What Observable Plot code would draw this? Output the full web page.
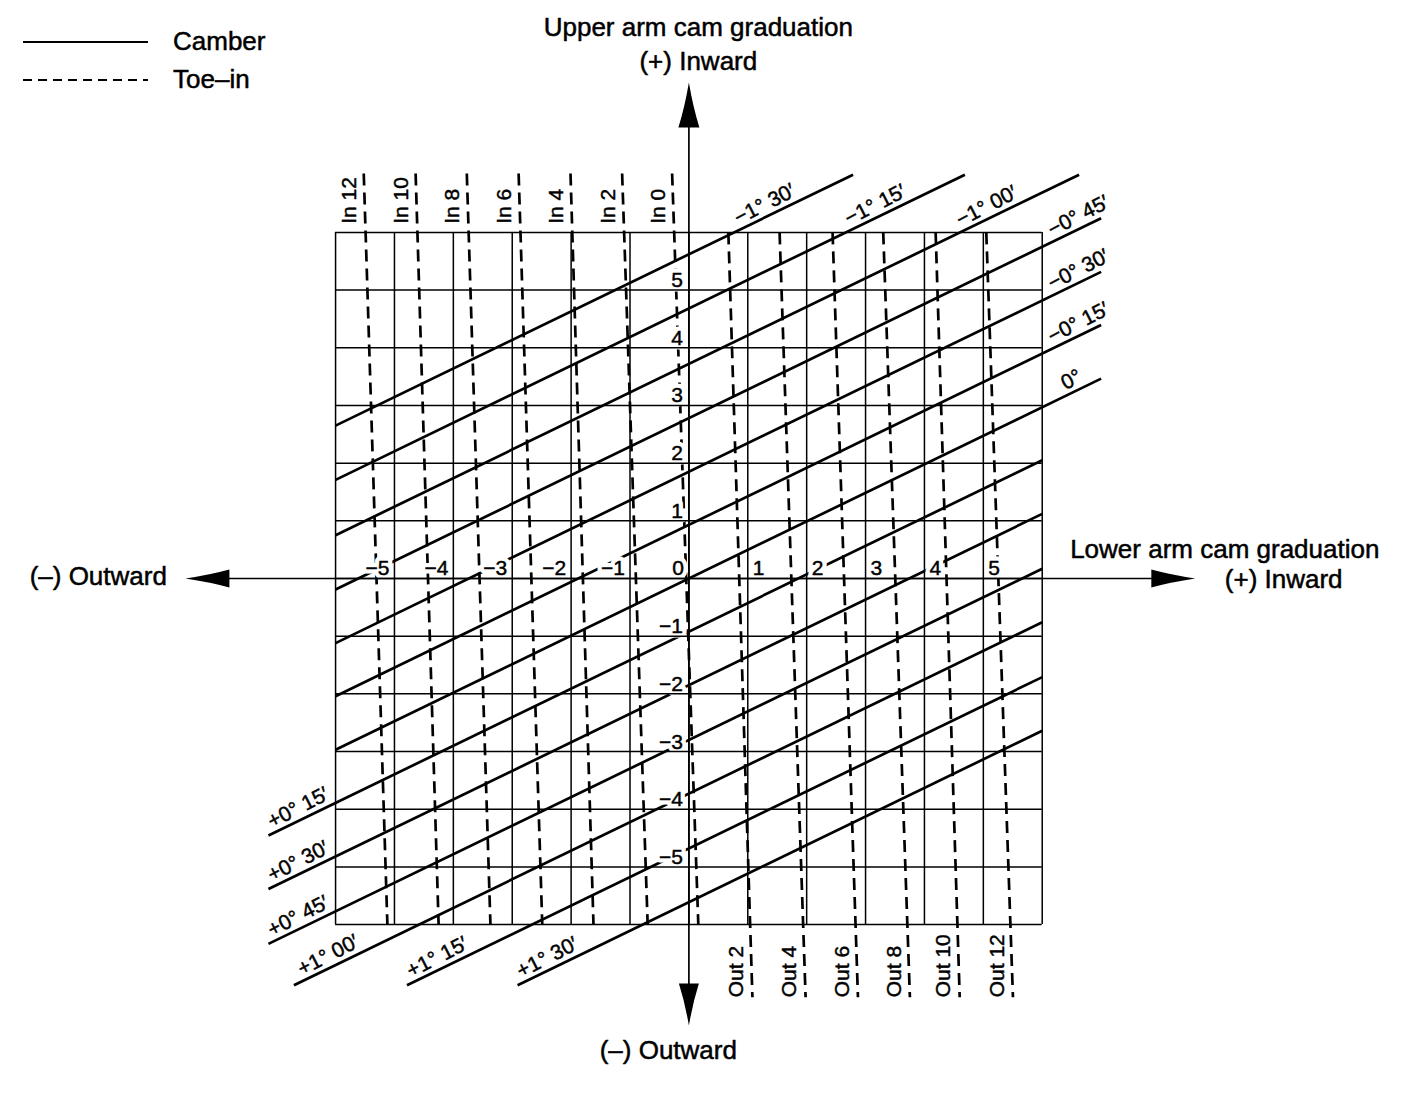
<!DOCTYPE html>
<html>
<head>
<meta charset="utf-8">
<script src="https://cdn.jsdelivr.net/npm/d3@7"></script>
<script src="https://cdn.jsdelivr.net/npm/@observablehq/plot@0.6"></script>
<style>
  body { margin: 0; background: #fff; font-family: "Liberation Sans", Arial, Helvetica, sans-serif; }
  #wrap { position: relative; width: 1408px; height: 1096px; }
  #legend { position: absolute; left: 0; top: 0; }
  #legend text { font-family: "Liberation Sans", Arial, Helvetica, sans-serif; font-size: 26px; fill: #000; stroke: #000; stroke-width: 0.5px; }
</style>
</head>
<body>
<div id="wrap">
  <div id="chart"></div>
  <svg id="legend" width="300" height="110">
    <line x1="23" y1="42" x2="148" y2="42" stroke="#000" stroke-width="2.2"></line>
    <text x="173" y="43" dominant-baseline="middle">Camber</text>
    <line x1="23" y1="80" x2="148" y2="80" stroke="#000" stroke-width="2.2" stroke-dasharray="9,6"></line>
    <text x="173" y="81" dominant-baseline="middle">Toe–in</text>
  </svg>
</div>
<script>
// ---------- data ----------
const gridValues = [-6, -5, -4, -3, -2, -1, 0, 1, 2, 3, 4, 5, 6];

const xTickValues = [-5, -4, -3, -2, -1, 0, 1, 2, 3, 4, 5];
const xTickLabels = ["−5", "−4", "−3", "−2", "−1", "0", "1", "2", "3", "4", "5"];
const yTickValues = [5, 4, 3, 2, 1, -1, -2, -3, -4, -5];
const yTickLabels = ["5", "4", "3", "2", "1", "−1", "−2", "−3", "−4", "−5"];

// camber lines (solid): value where each line crosses the upper-arm axis (x = 0)
const camberLabels = ["−1° 30′", "−1° 15′", "−1° 00′", "−0° 45′", "−0° 30′", "−0° 15′", "0°",
                      "+0° 15′", "+0° 30′", "+0° 45′", "+1° 00′", "+1° 15′", "+1° 30′"];
const camberIntercepts = [5.62, 4.68, 3.72, 2.78, 1.85, 0.93, 0, -0.92, -1.85, -2.80, -3.73, -4.68, -5.61];
const camberSlope = 0.495;
const camberLabelX = [1.37, 3.25, 5.14, 6.70, 6.70, 6.70, 6.58, -6.55, -6.55, -6.55, -6.04, -4.19, -2.32];

// toe-in lines (dashed): lower-arm value at the top (y = +6) and bottom (y = -6) of the grid
const toeLabels = ["In 12", "In 10", "In 8", "In 6", "In 4", "In 2", "In 0",
                   "Out 2", "Out 4", "Out 6", "Out 8", "Out 10", "Out 12"];
const toeTopX = [-5.49, -4.61, -3.74, -2.86, -1.98, -1.10, -0.25, 0.67, 1.54, 2.44, 3.30, 4.19, 5.05];
const toeBottomX = [-5.12, -4.25, -3.37, -2.49, -1.62, -0.70, 0.16, 1.04, 1.94, 2.83, 3.71, 4.56, 5.46];

// extents of the labelled line ends beyond the grid
const gridMin = -6, gridMax = 6;
const extTop = 7.0, extRight = 7.0, extLeft = -7.14, extBottom = -7.05;
const toeTopEnd = 7.02, toeBottomEnd = -7.26;
const toeInLabelY = 6.15, toeOutLabelY = -7.26;

// axis arrows (tips)
const axisLeftTip = -8.55, axisRightTip = 8.60, axisTopTip = 8.60, axisBottomTip = -7.75;

// texts around the chart
const outerTexts = [
  {text: "Upper arm cam graduation", x: 0.16, y: 9.55},
  {text: "(+) Inward", x: 0.16, y: 8.96},
  {text: "Lower arm cam graduation", x: 9.10, y: 0.50},
  {text: "(+) Inward", x: 10.10, y: -0.02},
  {text: "(–) Outward", x: -10.03, y: 0.04},
  {text: "(–) Outward", x: -0.35, y: -8.18}
];

// ---------- derived tables ----------
const camber = camberIntercepts.map((b, i) => {
  const m = camberSlope;
  let x1, x2;
  if (b >= 0) {
    x1 = gridMin;
    x2 = Math.min(extRight, (extTop - b) / m);
  } else {
    x1 = Math.max(extLeft, (extBottom - b) / m);
    x2 = gridMax;
  }
  const lx = camberLabelX[i];
  return {x1, y1: m * x1 + b, x2, y2: m * x2 + b, label: camberLabels[i], lx, ly: m * lx + b};
});

const toe = toeLabels.map((label, i) => {
  const xt = toeTopX[i], xb = toeBottomX[i];
  const xAt = (y) => xb + (xt - xb) * (y - gridMin) / (gridMax - gridMin);
  const isIn = label.startsWith("In");
  const yTop = isIn ? toeTopEnd : gridMax;
  const yBot = isIn ? gridMin : toeBottomEnd;
  const ly = isIn ? toeInLabelY : toeOutLabelY;
  return {x1: xAt(yTop), y1: yTop, x2: xAt(yBot), y2: yBot, label, lx: xAt(ly), ly};
});

const xTicks = xTickValues.map((v, i) => ({v, label: xTickLabels[i]}));
const yTicks = yTickValues.map((v, i) => ({v, label: yTickLabels[i]}));

// arrowhead symbol: tip at the anchor point, pointing along `angle` (0 = up, clockwise)
function arrowHead(angleDeg, L, W) {
  const a = angleDeg * Math.PI / 180, c = Math.cos(a), s = Math.sin(a);
  const r = ([x, y]) => [x * c - y * s, x * s + y * c];
  return {
    draw(ctx) {
      const tip = r([0, 0]);
      const cl = r([-W * 0.2, L * 0.55]), bl = r([-W / 2, L]);
      const br = r([W / 2, L]), cr = r([W * 0.2, L * 0.55]);
      ctx.moveTo(tip[0], tip[1]);
      ctx.quadraticCurveTo(cl[0], cl[1], bl[0], bl[1]);
      ctx.lineTo(br[0], br[1]);
      ctx.quadraticCurveTo(cr[0], cr[1], tip[0], tip[1]);
      ctx.closePath();
    }
  };
}

const font = "Liberation Sans, Arial, Helvetica, sans-serif";
const ink = {fill: "#000", stroke: "#000", strokeWidth: 0.45};
const halo = {fill: "#fff", stroke: "#fff", strokeWidth: 9};

const chart = Plot.plot({
  width: 1408,
  height: 1096,
  margin: 0,
  style: {fontFamily: font, background: "#fff", color: "#000"},
  x: {domain: [-11.69, 12.22], axis: null},
  y: {domain: [-8.98, 10.02], axis: null},
  marks: [
    // camber (solid) lines
    Plot.link(camber, {x1: "x1", y1: "y1", x2: "x2", y2: "y2", stroke: "#000", strokeWidth: 2.7}),
    // toe-in (dashed) lines
    Plot.link(toe, {x1: "x1", y1: "y1", x2: "x2", y2: "y2", stroke: "#000", strokeWidth: 2.7, strokeDasharray: "12,7"}),
    // white boxes behind the axis numbers
    Plot.text(xTicks, {x: "v", y: 0, text: "label", fontSize: 21, ...halo,
      textAnchor: "end", lineAnchor: "bottom", dx: -5, dy: -3, filter: d => d.v <= 0}),
    Plot.text(xTicks, {x: "v", y: 0, text: "label", fontSize: 21, ...halo,
      textAnchor: "start", lineAnchor: "bottom", dx: 5, dy: -3, filter: d => d.v > 0}),
    Plot.text(yTicks, {x: 0, y: "v", text: "label", fontSize: 21, ...halo,
      textAnchor: "end", lineAnchor: "bottom", dx: -6, dy: -3}),
    // grid
    Plot.ruleX(gridValues, {y1: gridMin, y2: gridMax, stroke: "#000", strokeWidth: 1.5}),
    Plot.ruleY(gridValues, {x1: gridMin, x2: gridMax, stroke: "#000", strokeWidth: 1.5}),
    // axes with arrowheads
    Plot.ruleY([0], {x1: axisLeftTip + 0.3, x2: axisRightTip - 0.3, stroke: "#000", strokeWidth: 1.7}),
    Plot.ruleX([0], {y1: axisBottomTip + 0.3, y2: axisTopTip - 0.3, stroke: "#000", strokeWidth: 1.7}),
    Plot.dot([{x: 0, y: axisTopTip}], {x: "x", y: "y", r: 5, fill: "#000", stroke: "none", symbol: arrowHead(0, 45, 21)}),
    Plot.dot([{x: 0, y: axisBottomTip}], {x: "x", y: "y", r: 5, fill: "#000", stroke: "none", symbol: arrowHead(180, 42, 20)}),
    Plot.dot([{x: axisRightTip, y: 0}], {x: "x", y: "y", r: 5, fill: "#000", stroke: "none", symbol: arrowHead(90, 44, 18)}),
    Plot.dot([{x: axisLeftTip, y: 0}], {x: "x", y: "y", r: 5, fill: "#000", stroke: "none", symbol: arrowHead(-90, 44, 18)}),
    // axis numbers
    Plot.text(xTicks, {x: "v", y: 0, text: "label", fontSize: 21, ...ink,
      textAnchor: "end", lineAnchor: "bottom", dx: -5, dy: -3, filter: d => d.v <= 0}),
    Plot.text(xTicks, {x: "v", y: 0, text: "label", fontSize: 21, ...ink,
      textAnchor: "start", lineAnchor: "bottom", dx: 5, dy: -3, filter: d => d.v > 0}),
    Plot.text(yTicks, {x: 0, y: "v", text: "label", fontSize: 21, ...ink,
      textAnchor: "end", lineAnchor: "bottom", dx: -6, dy: -3}),
    // camber labels along the lines
    Plot.text(camber, {x: "lx", y: "ly", text: "label", fontSize: 21, ...ink,
      rotate: -27, textAnchor: "middle", lineAnchor: "bottom", dx: -2, dy: -5}),
    // toe-in labels, vertical
    Plot.text(toe, {x: "lx", y: "ly", text: "label", fontSize: 21, ...ink,
      rotate: -90, textAnchor: "start", lineAnchor: "middle", dx: -16}),
    // surrounding titles
    Plot.text(outerTexts, {x: "x", y: "y", text: "text", fontSize: 26, ...ink, strokeWidth: 0.5,
      textAnchor: "middle", lineAnchor: "middle"})
  ]
});

document.getElementById("chart").appendChild(chart);
</script>
</body>
</html>
